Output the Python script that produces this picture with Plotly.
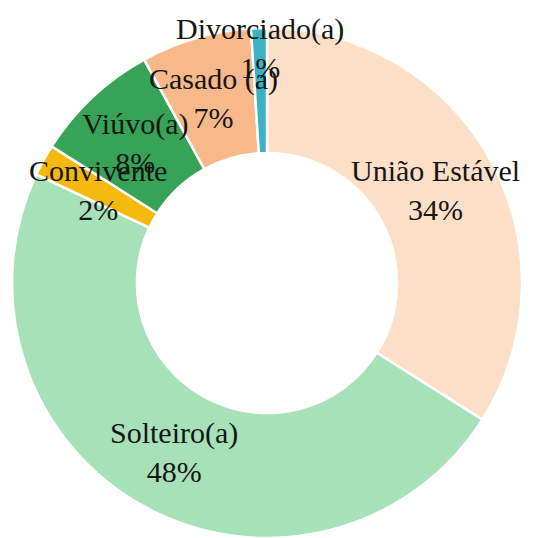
import math
import plotly.graph_objects as go

# Marital status distribution
categories = ["União Estável", "Solteiro(a)", "Convivente", "Viúvo(a)", "Casado (a)", "Divorciado(a)"]
shares = [34, 48, 2, 8, 7, 1]
colors = ["#FDDFC8", "#A6E1B8", "#F5B80C", "#37A356", "#F8B98A", "#3DB1C4"]

W, H = 535, 538
CX, CY, R_OUT = 267, 283, 255          # pie centre / radius in pixels
HOLE = 0.51
LABEL_R = {"Divorciado(a)": 235}       # labels pushed outward to avoid overlap

fig = go.Figure(go.Pie(
    labels=categories,
    values=shares,
    marker=dict(colors=colors, line=dict(color="white", width=2.5)),
    hole=HOLE,
    sort=False,
    direction="clockwise",
    rotation=0,
    textinfo="none",
    hoverinfo="label+percent",
    domain=dict(x=[(CX - R_OUT) / W, (CX + R_OUT) / W],
                y=[(H - CY - R_OUT) / H, (H - CY + R_OUT) / H]),
    showlegend=False,
))

# Data labels at the radial middle of each slice
total = sum(shares)
r_mid = R_OUT * (1 + HOLE) / 2
cum = 0
for name, v in zip(categories, shares):
    mid = (cum + v / 2) / total * 2 * math.pi
    cum += v
    r = LABEL_R.get(name, r_mid)
    px = CX + r * math.sin(mid)
    py = CY - r * math.cos(mid)
    fig.add_annotation(
        x=px / W, y=1 - py / H, xref="paper", yref="paper",
        text=f"{name}<br>{round(v / total * 100)}%",
        showarrow=False, xanchor="center", yanchor="middle",
        font=dict(family="Liberation Serif", size=30, color="#161616"),
    )

fig.update_layout(
    width=W, height=H,
    margin=dict(l=0, r=0, t=0, b=0),
    paper_bgcolor="white",
    plot_bgcolor="white",
)

fig.write_html("out.html")
